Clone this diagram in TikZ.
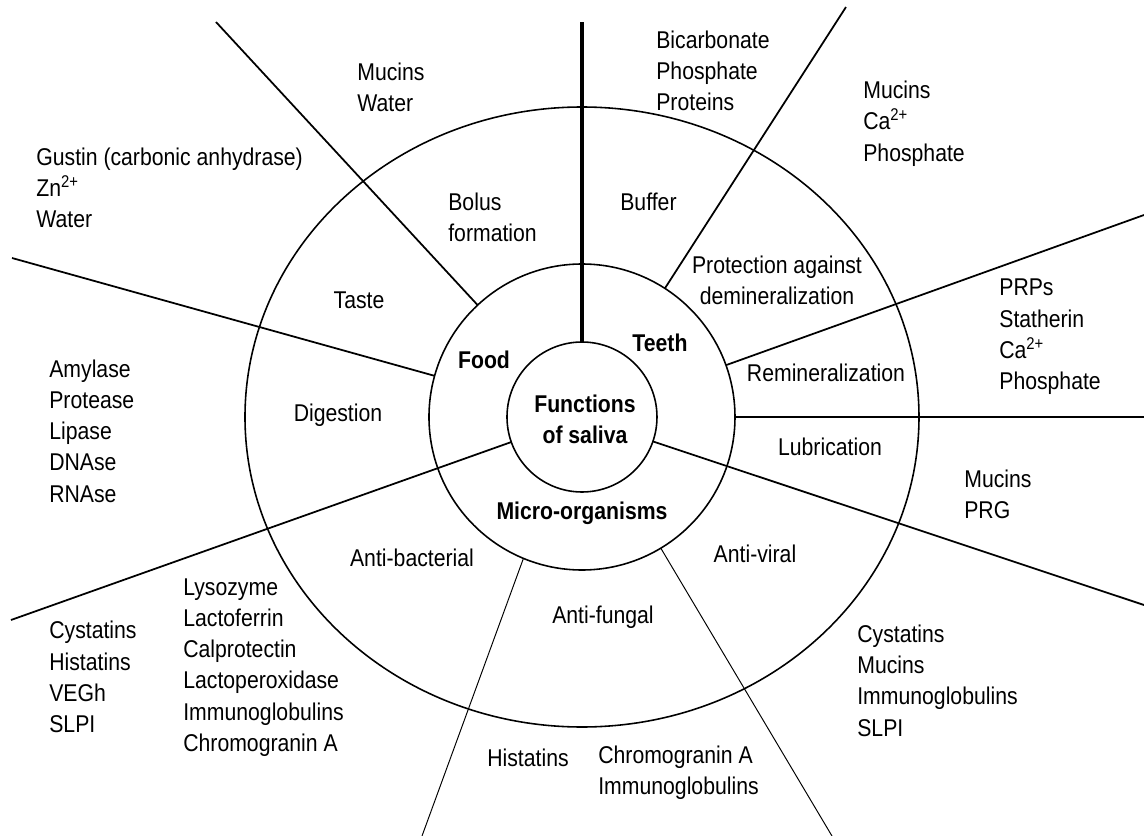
\documentclass[tikz,border=0pt]{standalone}
\usepackage{fontspec}
\setmainfont{Liberation Sans}[FakeStretch=0.875]

\begin{document}
\begin{tikzpicture}[x=0.02cm,y=0.02cm]
  \tikzset{every node/.style={font=\fontsize{13.8}{17.8}\selectfont, inner sep=0pt},
    lst/.style={align=left, anchor=west},
    hub/.style={align=center, font=\fontsize{13.8}{17.8}\selectfont\bfseries},
    ring/.style={line width=0.9pt},
    spoke/.style={line width=1pt},
    fine/.style={line width=0.55pt}}%
\useasboundingbox (-582,-419) rectangle (562,417);
\coordinate (c) at (0,0);
\draw[ring] (c) circle (75);
\draw[ring] (c) circle (153);
\draw[ring] (c) ellipse [x radius=337, y radius=310];
\draw[line width=2.3pt] (90:75) -- (0,395);
\draw[spoke] (133:153) -- (-366,395);
\draw[spoke] (57.2:153) -- (264,410);
\draw[spoke] (19.8:153) -- (562,202);
\draw[spoke] (0:153) -- (562,0);
\draw[spoke] (-19:75) -- (562,-188);
\draw[spoke] (164.4:153) -- (-570,159);
\draw[spoke] (199.5:75) -- (-571,-203);
\draw[fine] (247.5:153) -- (-160,-419);
\draw[fine] (-59:153) -- (250,-419);
\node (fn) [hub] at (3,-2) {Functions\\of saliva};
\node (food) [hub] at (-98,57) {Food};
\node (teeth) [hub] at (78,74) {Teeth};
\node (micro) [hub] at (0,-96) {Micro-organisms};
\node (taste) at (-223,117) {Taste};
\node (dig) at (-244,2) {Digestion};
\node (bolus) [lst] at (-134,199.5) {Bolus\\formation};
\node (buffer) [lst] at (38,215) {Buffer};
\node (prot) [align=center] at (195,137) {Protection against\\demineralization};
\node (remin) at (244,44) {Remineralization};
\node (lubr) at (248,-30) {Lubrication};
\node (viral) at (173,-137) {Anti-viral};
\node (fungal) at (21,-200) {Anti-fungal};
\node (bact) at (-170,-141) {Anti-bacterial};
\node (gustin) [lst] at (-546,229) {Gustin (carbonic anhydrase)\\Zn\textsuperscript{2+}\\Water};
\node (bolusin) [lst] at (-225,330) {Mucins\\Water};
\node (bufin) [lst] at (74,346) {Bicarbonate\\Phosphate\\Proteins};
\node (protin) [lst] at (281,293.5) {Mucins\\Ca\textsuperscript{2+}\\Phosphate};
\node (reminin) [lst] at (417,80) {PRPs\\Statherin\\Ca\textsuperscript{2+}\\Phosphate};
\node (lubrin) [lst] at (382,-77) {Mucins\\PRG};
\node (viralin) [lst] at (275,-263.5) {Cystatins\\Mucins\\Immunoglobulins\\SLPI};
\node (fungin) [lst] at (-95,-341) {Histatins};
\node (fungin2) [lst] at (16,-355.5) {Chromogranin A\\Immunoglobulins};
\node (bactin) [lst] at (-399,-250.5) {Lysozyme\\Lactoferrin\\Calprotectin\\Lactoperoxidase\\Immunoglobulins\\Chromogranin A};
\node (bactin2) [lst] at (-533,-260) {Cystatins\\Histatins\\VEGh\\SLPI};
\node (digin) [lst] at (-533,-14) {Amylase\\Protease\\Lipase\\DNAse\\RNAse};
\end{tikzpicture}
\end{document}
